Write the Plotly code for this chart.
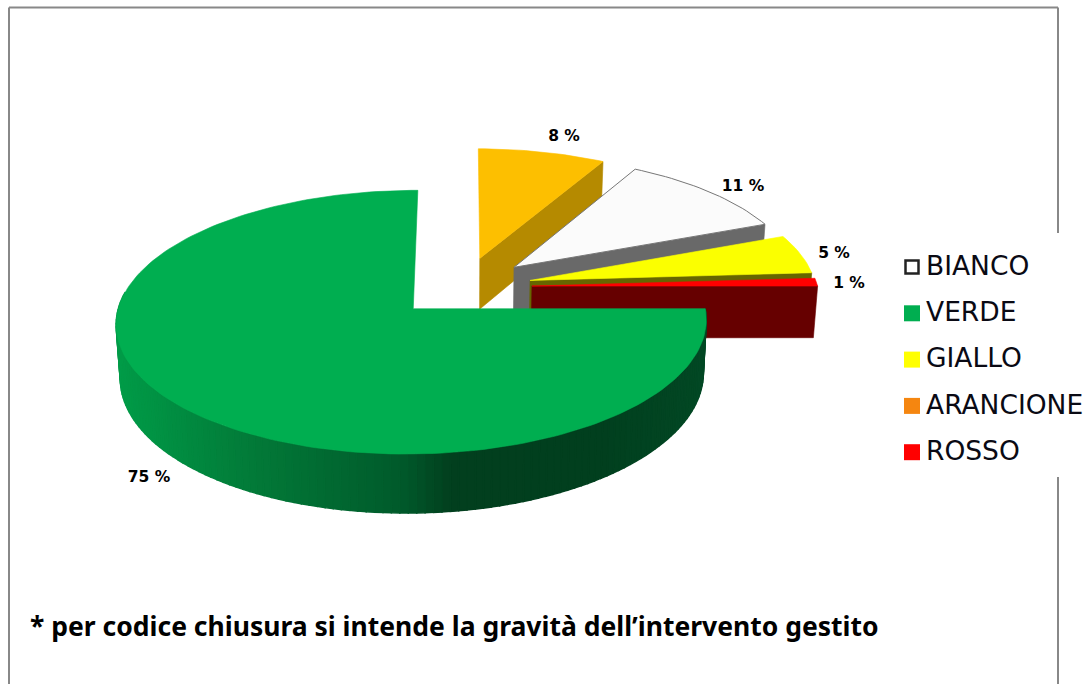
import math
import plotly.graph_objects as go

CATEGORIES = ["BIANCO", "VERDE", "GIALLO", "ARANCIONE", "ROSSO"]
PERCENT = [11, 75, 5, 8, 1]
PIE_ORDER = ["ARANCIONE", "BIANCO", "GIALLO", "ROSSO", "VERDE"]
TOP_COLOR = {"BIANCO": "#fbfbfb", "VERDE": "#00ae50", "GIALLO": "#fbff00", "ARANCIONE": "#fdbf00", "ROSSO": "#ff0000"}
CUT_COLOR = {"BIANCO": "#696969", "GIALLO": "#666600", "ARANCIONE": "#b58a00", "ROSSO": "#660000"}
LEGEND_COLOR = {"BIANCO": "#ffffff", "VERDE": "#00ae50", "GIALLO": "#ffff00", "ARANCIONE": "#f58610", "ROSSO": "#ff0000"}
NOTE = "* per codice chiusura si intende la gravità dell’intervento gestito"
LABEL_POS = {"ARANCIONE": (564, 137), "BIANCO": (743, 187), "GIALLO": (834, 254), "ROSSO": (849, 284), "VERDE": (149, 478)}
RIM_STOPS = [(113, (0, 156, 72)), (250, (2, 122, 56)), (400, (0, 90, 43)), (450, (2, 63, 30)), (600, (1, 63, 30)), (705, (2, 72, 36))]

# projection of the pie (pixel space of the axes)
CX, CY, RX, RY, DEPTH, PULL = 463, 287, 288, 126, 52, 0.24
PERSP_V, PERSP_U, TAPER = 0.10, 0.005, 0.012
LAST_VISIBLE_RIM_DEG = 278


def project(u, v, z=0.0):
    d = 1 + PERSP_V * v + PERSP_U * u
    return CX + RX * u / d * (1 - TAPER * z), CY - RY * v / d + DEPTH * z / d


def lerp_color(x):
    for (x0, c0), (x1, c1) in zip(RIM_STOPS, RIM_STOPS[1:]):
        if x <= x1:
            t = max(0.0, (x - x0) / (x1 - x0))
            return "rgb(%d,%d,%d)" % tuple(round(a + (b - a) * t) for a, b in zip(c0, c1))
    return "rgb(%d,%d,%d)" % RIM_STOPS[-1][1]


def poly(fig, pts, fill, line=None, width=0.6):
    fig.add_trace(go.Scatter(
        x=[p[0] for p in pts] + [pts[0][0]], y=[p[1] for p in pts] + [pts[0][1]],
        mode="lines", fill="toself", fillcolor=fill,
        line=dict(color=line or fill, width=width),
        hoverinfo="skip", showlegend=False))


fig = go.Figure()
value = dict(zip(CATEGORIES, PERCENT))
start = 0.0
for name in PIE_ORDER:
    sweep = value[name] * 3.6
    a0, a1 = math.radians(start), math.radians(start + sweep)
    mid = (a0 + a1) / 2
    au, av = PULL * math.sin(mid), PULL * math.cos(mid)
    n = max(8, int(sweep / 1.5))
    angles = [a0 + (a1 - a0) * i / n for i in range(n + 1)]
    rim = [(au + math.sin(a), av + math.cos(a)) for a in angles]
    if name == "VERDE":
        vis = [r for r, a in zip(rim, angles) if math.degrees(a) <= LAST_VISIBLE_RIM_DEG]
        for (u0, v0), (u1, v1) in zip(vis, vis[1:]):
            q = [project(u0, v0), project(u1, v1), project(u1, v1, 1), project(u0, v0, 1)]
            poly(fig, q, lerp_color((q[0][0] + q[1][0]) / 2), width=1.5)
    else:
        ue, ve = rim[-1]
        q = [project(au, av), project(ue, ve), project(ue, ve, 1), project(au, av, 1)]
        poly(fig, q, CUT_COLOR[name])
    top = [project(au, av)] + [project(u, v) for u, v in rim]
    if name == "BIANCO":
        poly(fig, top, TOP_COLOR[name], "#777777", 1)
    else:
        poly(fig, top, TOP_COLOR[name])
    start += sweep

fig.add_trace(go.Scatter(
    x=[LABEL_POS[c][0] for c in CATEGORIES], y=[LABEL_POS[c][1] for c in CATEGORIES],
    text=[f"{v} %" for v in PERCENT], mode="text", textposition="middle center",
    textfont=dict(family="DejaVu Sans", size=15.5, color="#000000", weight="bold"),
    hoverinfo="skip", showlegend=False))

row_y = [267 + 46.3 * i for i in range(len(CATEGORIES))]
fig.add_trace(go.Scatter(
    x=[912] * len(CATEGORIES), y=row_y,
    mode="markers", hoverinfo="skip", showlegend=False,
    marker=dict(symbol="square", opacity=1, size=[13 if c == "BIANCO" else 16 for c in CATEGORIES],
                color=[LEGEND_COLOR[c] for c in CATEGORIES],
                line=dict(color=["#222222" if c == "BIANCO" else LEGEND_COLOR[c] for c in CATEGORIES],
                          width=[2.5 if c == "BIANCO" else 0 for c in CATEGORIES]))))
fig.add_trace(go.Scatter(
    x=[926] * len(CATEGORIES), y=[y + 1 for y in row_y],
    mode="text", text=CATEGORIES, textposition="middle right",
    textfont=dict(family="DejaVu Sans", size=26.5, color="#0a0a14"),
    hoverinfo="skip", showlegend=False))

frame = dict(color="#888888", width=2)
shapes = [
    dict(type="line", x0=9, x1=9, y0=7.5, y1=684, line=frame),
    dict(type="line", x0=9, x1=1058, y0=7.5, y1=7.5, line=frame),
    dict(type="line", x0=1058, x1=1058, y0=7.5, y1=233, line=frame),
    dict(type="line", x0=1058, x1=1058, y0=477, y1=684, line=frame),
]
fig.update_layout(
    width=1087, height=684, margin=dict(l=0, r=0, t=0, b=0),
    paper_bgcolor="#ffffff", plot_bgcolor="#ffffff", showlegend=False, shapes=shapes,
    xaxis=dict(range=[0, 1087], visible=False, fixedrange=True),
    yaxis=dict(range=[684, 0], visible=False, fixedrange=True),
    annotations=[dict(x=28, y=626, xref="x", yref="y", xanchor="left", yanchor="middle", showarrow=False,
                      text=NOTE, font=dict(family="Noto Sans", size=26.5, color="#000000", weight="bold"))],
)
fig.write_html("out.html", post_script="document.body.style.margin='0';",
               config={"displayModeBar": False})
